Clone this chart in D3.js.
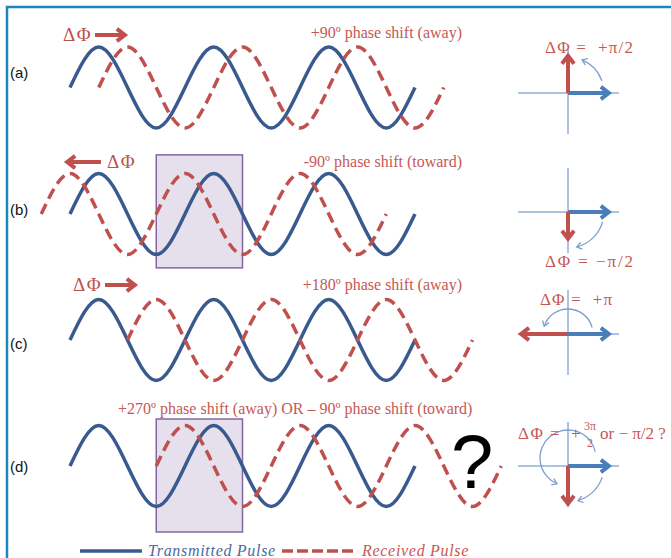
<!DOCTYPE html>
<html>
<head>
<meta charset="utf-8">
<script src="https://cdn.jsdelivr.net/npm/d3@7"></script>
<style>
  body { margin: 0; background: #fff; }
  svg { display: block; }
</style>
</head>
<body>
<div id="chart"></div>
<script>
const svgWidth = 671;
const svgHeight = 558;

// ------- DATA --------
const panelLabels = ["(a)", "(b)", "(c)", "(d)"];
// transmitted pulse, value read at every quarter period
const waveValues = [0, 1, 0, -1, 0, 1, 0, -1, 0, 1, 0, -1, 0];
// received pulse shift, in quarter periods (90º each)
const shiftQuarters = [1, -1, 2, 3];
const shiftLabels = [
    "+90º phase shift (away)",
    "-90º phase shift (toward)",
    "+180º phase shift (away)",
    "+270º phase shift (away) OR – 90º phase shift (toward)"
];
// direction of the little ΔΦ arrow: 1 right, -1 left, 0 none
const deltaDirs = [1, -1, 1, 0];
// received phasor: screen angle (deg) and relative length
const phasorAngles = [-90, 90, 180, 90];
const phasorLengths = [0.92, 0.68, 1.14, 0.93];
const phasorLabels = ["ΔΦ =  +π/2", "ΔΦ = −π/2", "ΔΦ =  +π", ""];
// highlighted window, panels (b) and (d), in quarter periods / amplitudes
const boxPanels = [1, 3];
const boxQuarters = [[3, 6], [3, 6]];
const boxAmps = [[-1.33, 1.46], [-1.63, 1.16]];
const legendLabels = ["Transmitted Pulse", "Received Pulse"];

// ------- STYLE / LAYOUT --------
const blueWave = "#395a8f";
const red = "#c0504d";
const redText = "#c65854";
const phasorBlue = "#4a7ebb";
const axisBlue = "#5a86c0";
const thinBlue = "#7d9fca";
const serif = "'Liberation Serif', 'DejaVu Serif', serif";
const sans = "'Liberation Sans', Arial, sans-serif";

const rowCenters = [87.5, 214, 340, 466];
const amp = 40.5;
const phasorX = 568;
const phasorRows = [93, 212, 334, 466];

const svg = d3.select("#chart")
    .append("svg")
    .attr("width", svgWidth)
    .attr("height", svgHeight);

// frame
svg.append("path")
    .attr("d", `M7,${svgHeight} V7 H${svgWidth}`)
    .attr("fill", "none")
    .attr("stroke", "#1a87bf")
    .attr("stroke-width", 2.5);

const xScale = d3.scaleLinear()
    .domain([0, waveValues.length - 1])
    .range([70, 415]);

const rScale = d3.scaleLinear()
    .domain([0, 1])
    .range([0, 44]);

// straight arrow with chevron head
function arrow(g, x1, y1, x2, y2, color, w, head) {
    const a = Math.atan2(y2 - y1, x2 - x1);
    const tx = x2 - Math.cos(a) * w * 0.8;
    const ty = y2 - Math.sin(a) * w * 0.8;
    g.append("line")
        .attr("x1", x1).attr("y1", y1)
        .attr("x2", tx - Math.cos(a)).attr("y2", ty - Math.sin(a))
        .attr("stroke", color)
        .attr("stroke-width", w);
    const s = 0.65;
    g.append("path")
        .attr("d", `M${tx - head * Math.cos(a - s)},${ty - head * Math.sin(a - s)}` +
            `L${tx},${ty}` +
            `L${tx - head * Math.cos(a + s)},${ty - head * Math.sin(a + s)}`)
        .attr("fill", "none")
        .attr("stroke", color)
        .attr("stroke-width", w)
        .attr("stroke-linejoin", "miter");
}

// thin curved arrow along a circle
function arcArrow(g, cx, cy, r, a0, a1, ccw) {
    const r0 = a0 * Math.PI / 180, r1 = a1 * Math.PI / 180;
    const p = d3.path();
    p.arc(cx, cy, r, r0, r1, ccw);
    g.append("path")
        .attr("d", p.toString())
        .attr("fill", "none")
        .attr("stroke", thinBlue)
        .attr("stroke-width", 1.3);
    const ex = cx + r * Math.cos(r1), ey = cy + r * Math.sin(r1);
    const dx = ccw ? Math.sin(r1) : -Math.sin(r1);
    const dy = ccw ? -Math.cos(r1) : Math.cos(r1);
    const a = Math.atan2(dy, dx), h = 6, s = 0.6;
    g.append("path")
        .attr("d", `M${ex - h * Math.cos(a - s)},${ey - h * Math.sin(a - s)}L${ex},${ey}` +
            `L${ex - h * Math.cos(a + s)},${ey - h * Math.sin(a + s)}`)
        .attr("fill", "none")
        .attr("stroke", thinBlue)
        .attr("stroke-width", 1.3);
}

const transmitted = waveValues.map((v, i) => ({ q: i, v: v }));

panelLabels.forEach(function(label, i) {
    const g = svg.append("g").attr("class", "panel");
    const yScale = d3.scaleLinear()
        .domain([-1, 1])
        .range([rowCenters[i] + amp, rowCenters[i] - amp]);

    const line = d3.line()
        .x(d => xScale(d.q))
        .y(d => yScale(d.v))
        .curve(d3.curveNatural);

    // highlight window goes behind the waves
    const b = boxPanels.indexOf(i);
    if (b >= 0) {
        g.append("rect")
            .attr("x", xScale(boxQuarters[b][0]))
            .attr("y", yScale(boxAmps[b][1]))
            .attr("width", xScale(boxQuarters[b][1]) - xScale(boxQuarters[b][0]))
            .attr("height", yScale(boxAmps[b][0]) - yScale(boxAmps[b][1]))
            .attr("fill", "#e6e0ec")
            .attr("stroke", "#8466a6")
            .attr("stroke-width", 1.5);
    }

    g.append("path")
        .datum(transmitted)
        .attr("d", line)
        .attr("fill", "none")
        .attr("stroke", blueWave)
        .attr("stroke-width", 3.5);

    g.append("path")
        .datum(transmitted.map(d => ({ q: d.q + shiftQuarters[i], v: d.v })))
        .attr("d", line)
        .attr("fill", "none")
        .attr("stroke", red)
        .attr("stroke-width", 3.5)
        .attr("stroke-dasharray", "11,6");

    g.append("text")
        .attr("x", 10)
        .attr("y", [78, 215, 349, 472][i])
        .attr("font-family", sans)
        .attr("font-size", 15)
        .attr("fill", "#111")
        .text(label);

    g.append("text")
        .attr("x", i === 3 ? 118 : 462)
        .attr("y", [38, 167, 290, 414][i])
        .attr("text-anchor", i === 3 ? "start" : "end")
        .attr("font-family", serif)
        .attr("font-size", 16)
        .attr("fill", redText)
        .text(shiftLabels[i]);

    // ΔΦ marker with its direction arrow
    if (deltaDirs[i] === 1) {
        const x0 = i === 0 ? 63 : 73, y0 = i === 0 ? 35 : 285;
        g.append("text")
            .attr("x", x0).attr("y", y0 + 6)
            .attr("font-family", serif).attr("font-size", 19)
            .attr("letter-spacing", 1.5)
            .attr("fill", red)
            .text("ΔΦ");
        arrow(g, x0 + 32, y0, x0 + 65, y0, red, 4, 10);
    } else if (deltaDirs[i] === -1) {
        g.append("text")
            .attr("x", 107).attr("y", 168)
            .attr("font-family", serif).attr("font-size", 19)
            .attr("letter-spacing", 1.5)
            .attr("fill", red)
            .text("ΔΦ");
        arrow(g, 101, 162, 64, 162, red, 4, 10);
    }

    // ------ PHASOR --------
    const py = phasorRows[i];
    const pg = svg.append("g").attr("class", "phasor");
    pg.append("line")
        .attr("x1", phasorX - 50).attr("x2", phasorX + 51)
        .attr("y1", py).attr("y2", py)
        .attr("stroke", axisBlue).attr("stroke-width", 1);
    pg.append("line")
        .attr("x1", phasorX).attr("x2", phasorX)
        .attr("y1", py - 44).attr("y2", py + 41)
        .attr("stroke", axisBlue).attr("stroke-width", 1);

    arrow(pg, phasorX, py, phasorX + rScale(1), py, phasorBlue, 4, 10);
    const ang = phasorAngles[i] * Math.PI / 180;
    const len = rScale(phasorLengths[i]);
    arrow(pg, phasorX, py, phasorX + len * Math.cos(ang), py + len * Math.sin(ang), red, 4, 10);

    if (phasorLabels[i]) {
        pg.append("text")
            .attr("x", [545, 545, 540][i])
            .attr("y", [53, 267, 305][i])
            .attr("font-family", serif)
            .attr("font-size", 17)
            .attr("fill", redText)
            .attr("textLength", [88, 88, 72][i])
            .attr("lengthAdjust", "spacing")
            .style("white-space", "pre")
            .text(phasorLabels[i]);
    }
});

// curved arrows in the phasor diagrams
arcArrow(svg, phasorX, phasorRows[0], 36, -20, -67, true);
arcArrow(svg, phasorX, phasorRows[1], 36, 16, 76, false);
arcArrow(svg, phasorX, phasorRows[2], 25, -15, -162, true);
arcArrow(svg, phasorX, phasorRows[3] - 8, 28, -13, -247, true);
arcArrow(svg, phasorX, phasorRows[3], 36, 18, 74, false);

// (d) phasor label with the 3π/2 fraction
const dl = svg.append("text")
    .attr("font-family", serif)
    .attr("font-size", 17)
    .attr("fill", redText);
dl.append("tspan").attr("x", 518).attr("y", 439).attr("letter-spacing", 1.5).text("ΔΦ =");
dl.append("tspan").attr("x", 571).attr("y", 439).text("+");
dl.append("tspan").attr("x", 584).attr("y", 430).attr("font-size", 12).text("3π");
dl.append("tspan").attr("x", 587).attr("y", 447).attr("font-size", 12).text("2");
dl.append("tspan").attr("x", 600).attr("y", 439).text("or − π/2 ?");

// question mark
svg.append("text")
    .attr("x", 451)
    .attr("y", 488)
    .attr("font-family", sans)
    .attr("font-size", 76)
    .attr("fill", "#000")
    .text("?");

// ------ LEGEND --------
const lg = svg.append("g").attr("class", "legend");
lg.append("line")
    .attr("x1", 80).attr("x2", 142).attr("y1", 551).attr("y2", 551)
    .attr("stroke", blueWave).attr("stroke-width", 3.5);
lg.append("text")
    .attr("x", 148).attr("y", 556)
    .attr("font-family", serif).attr("font-style", "italic").attr("font-size", 16)
    .attr("letter-spacing", 0.7)
    .attr("fill", "#4a6b9e")
    .text(legendLabels[0]);
lg.append("line")
    .attr("x1", 282).attr("x2", 353).attr("y1", 551).attr("y2", 551)
    .attr("stroke", red).attr("stroke-width", 3.5)
    .attr("stroke-dasharray", "11,4");
lg.append("text")
    .attr("x", 362).attr("y", 556)
    .attr("font-family", serif).attr("font-style", "italic").attr("font-size", 16)
    .attr("letter-spacing", 0.7)
    .attr("fill", redText)
    .text(legendLabels[1]);
</script>
</body>
</html>
